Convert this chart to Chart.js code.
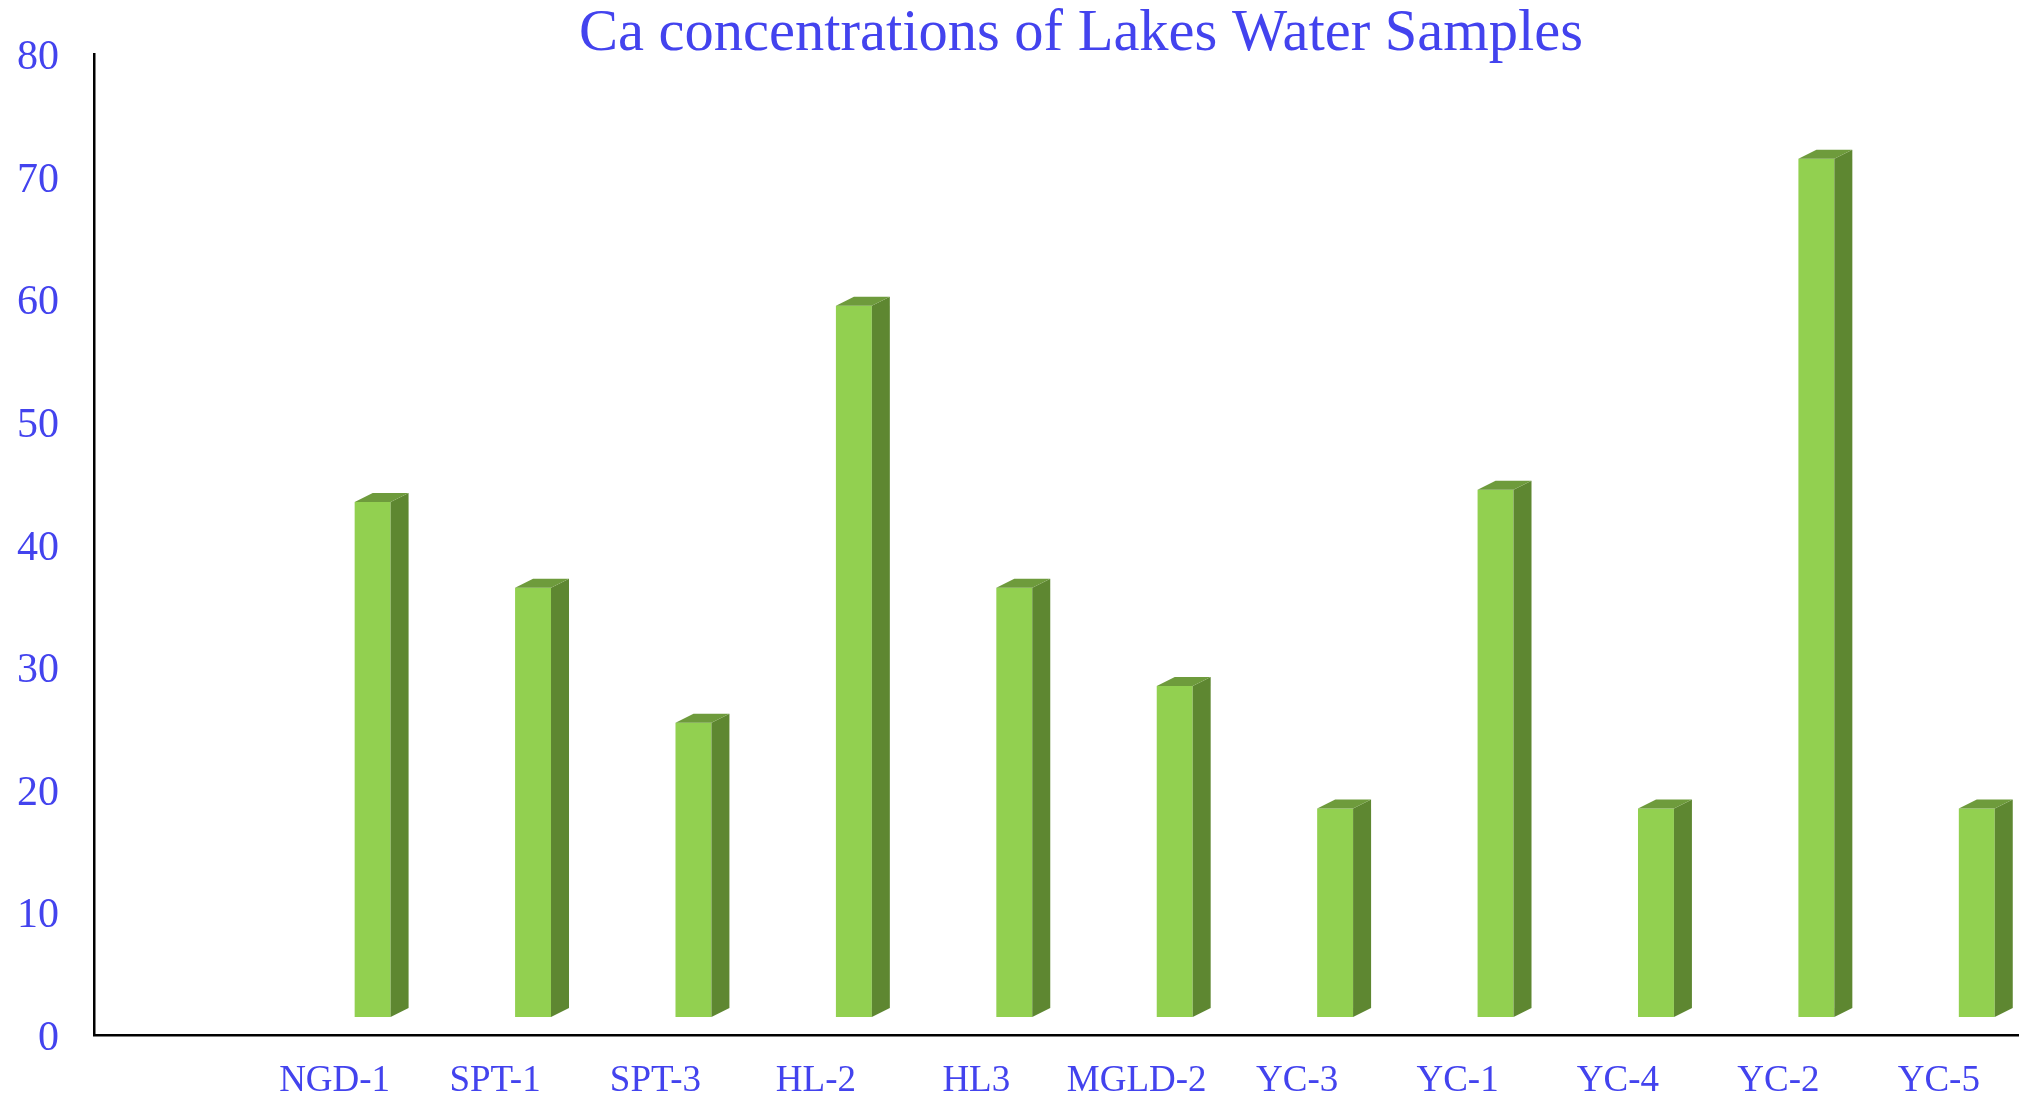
<!DOCTYPE html>
<html>
<head>
<meta charset="utf-8">
<script src="https://cdn.jsdelivr.net/npm/chart.js@4.4.1/dist/chart.umd.min.js"></script>
<style>
  html, body { margin: 0; padding: 0; background: #fff; }
  #wrap { width: 2019px; height: 1099px; }
</style>
</head>
<body>
<div id="wrap"><canvas id="caChart"></canvas></div>
<script>
// Ca (mg/L) por muestra; la primera categoría está vacía en el original
const samples = ['', 'NGD-1', 'SPT-1', 'SPT-3', 'HL-2', 'HL3', 'MGLD-2', 'YC-3', 'YC-1', 'YC-4', 'YC-2', 'YC-5'];
const caValues = [null, 42, 35, 24, 58, 35, 27, 17, 43, 17, 70, 17];
const yTicks = [0, 10, 20, 30, 40, 50, 60, 70, 80];

const blue = '#4343EE';
const serif = "'Liberation Serif', 'Times New Roman', serif";

// efecto 3D de Excel: columna desplazada hacia el fondo, con cara lateral y superior
const depth = { dx: 18, dy: 9 };
const shift = { dx: 38, dy: -18 };

const column3d = {
    id: 'column3d',
    beforeDatasetsDraw(chart) {
        chart.ctx.save();
        chart.ctx.translate(shift.dx, shift.dy);
    },
    afterDatasetsDraw(chart) {
        const ctx = chart.ctx;
        chart.getDatasetMeta(0).data.forEach((bar, i) => {
            if (caValues[i] == null) return;
            const { x, y, base, width } = bar.getProps(['x', 'y', 'base', 'width'], true);
            const l = x - width / 2, r = x + width / 2;
            // lateral
            ctx.fillStyle = '#5E8731';
            ctx.beginPath();
            ctx.moveTo(r, y);
            ctx.lineTo(r + depth.dx, y - depth.dy);
            ctx.lineTo(r + depth.dx, base - depth.dy);
            ctx.lineTo(r, base);
            ctx.closePath();
            ctx.fill();
            // tapa
            ctx.fillStyle = '#6E9B3C';
            ctx.beginPath();
            ctx.moveTo(l, y);
            ctx.lineTo(l + depth.dx, y - depth.dy);
            ctx.lineTo(r + depth.dx, y - depth.dy);
            ctx.lineTo(r, y);
            ctx.closePath();
            ctx.fill();
        });
        ctx.restore();
    }
};

const titlePlugin = {
    id: 'titleText',
    afterDraw(chart) {
        const ctx = chart.ctx;
        ctx.save();
        ctx.font = '58.5px ' + serif;
        ctx.fillStyle = blue;
        ctx.textAlign = 'center';
        ctx.textBaseline = 'middle';
        ctx.fillText('Ca concentrations of Lakes Water Samples', 1081, 35);
        ctx.restore();
    }
};

const ctx1 = document.getElementById('caChart').getContext('2d');
new Chart(ctx1, {
    type: 'bar',
    data: {
        labels: samples,
        datasets: [{
            label: 'Ca',
            data: caValues,
            backgroundColor: '#92D050',
            borderWidth: 0,
            barPercentage: 0.224,
            categoryPercentage: 1,
            clip: false
        }]
    },
    options: {
        responsive: true,
        maintainAspectRatio: false,
        animation: false,
        layout: { padding: { top: 54, left: 0, right: -8, bottom: 0 } },
        plugins: {
            legend: { display: false },
            title: { display: false },
            tooltip: { enabled: false }
        },
        scales: {
            x: {
                grid: { display: false, drawTicks: false },
                border: { display: true, color: '#000', width: 2.5 },
                ticks: {
                    color: blue,
                    font: { family: serif, size: 37 },
                    padding: 24,
                    maxRotation: 0,
                    autoSkip: false
                },
                afterFit(scale) { scale.height = 64; }
            },
            y: {
                min: 0,
                max: 80,
                afterBuildTicks(scale) { scale.ticks = yTicks.map(v => ({ value: v })); },
                grid: { display: false, drawTicks: false },
                border: { display: true, color: '#000', width: 2.5 },
                ticks: {
                    color: blue,
                    font: { family: serif, size: 42 },
                    padding: 35,
                    labelOffset: 4
                },
                afterFit(scale) {
                    scale.width = 94;
                    scale.paddingTop = 0;
                    scale.paddingBottom = 0;
                }
            }
        }
    },
    plugins: [column3d, titlePlugin]
});
</script>
</body>
</html>
